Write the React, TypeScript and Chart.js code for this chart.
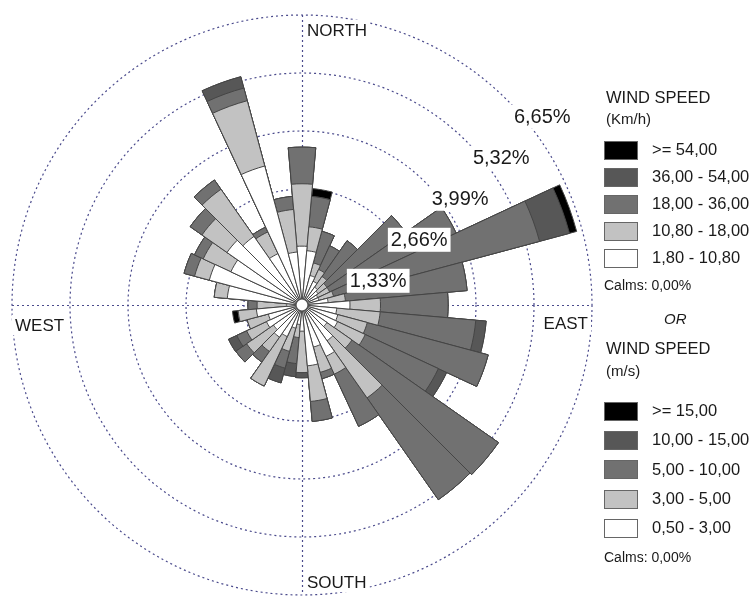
import React, { useEffect, useRef } from 'react';
import { Chart, registerables } from 'chart.js';
Chart.register(...registerables);

// Directions (degrees, clockwise from north), 10° sectors
const DIRECTIONS = ['0°','10°','20°','30°','40°','50°','60°','70°','80°','90°','100°','110°','120°','130°','140°','150°','160°','170°','180°','190°','200°','210°','220°','230°','240°','250°','260°','270°','280°','290°','300°','310°','320°','330°','340°','350°'];

// Frequency (%) per speed class and direction
const CLASS_1_8_10_8 = [1.35,1.25,0.70,0.60,0.50,0.45,0.40,0.40,0.60,1.10,0.80,0.85,0.90,0.70,1.00,1.30,1.00,1.40,0.60,0.45,0.55,0.80,0.90,0.80,0.90,0.80,1.05,0.35,1.72,2.20,1.80,2.10,1.92,1.30,3.30,1.22];
const CLASS_10_8_18 = [1.43,0.55,0.30,0.30,0.30,0.25,0.30,0.35,0.40,0.70,1.00,0.70,0.70,0.70,1.60,0.45,0.60,0.82,0.95,0.30,0.55,1.25,0.40,0.75,0.50,0.50,0.42,0.68,0.30,0.35,0.70,0.70,1.32,0.55,1.55,0.98];
const CLASS_18_36 = [0.84,0.70,0.75,0.60,1.00,2.20,3.20,4.89,2.80,1.55,2.20,2.87,1.85,4.10,2.85,1.32,0.15,0.46,0.00,0.60,0.40,0.00,0.30,0.30,0.25,0.00,0.00,0.21,0.00,0.25,0.22,0.33,0.26,0.12,0.30,0.30];
const CLASS_36_54 = [0,0,0,0,0,0,0,0.71,0,0,0.24,0,0.21,0,0,0,0,0,0.12,0.30,0.35,0,0,0,0.21,0,0,0,0,0,0,0,0,0,0.27,0];
const CLASS_54 = [0,0.18,0,0,0,0,0,0.17,0,0,0,0,0,0,0,0,0,0,0,0,0,0,0,0,0,0,0.13,0,0,0,0,0,0,0,0,0];

const RING_TICKS = [1.33, 2.66, 3.99, 5.32, 6.65];
const RING_LABELS = ['1,33%', '2,66%', '3,99%', '5,32%', '6,65%'];

const CLASS_COLORS = ['#ffffff', '#c2c2c2', '#717171', '#575757', '#000000'];
const KMH_LABELS = ['>= 54,00', '36,00 - 54,00', '18,00 - 36,00', '10,80 - 18,00', '1,80 - 10,80'];
const MS_LABELS = ['>= 15,00', '10,00 - 15,00', '5,00 - 10,00', '3,00 - 5,00', '0,50 - 3,00'];
const LEGEND_COLORS = ['#000000', '#575757', '#717171', '#c2c2c2', '#ffffff'];

const FONT = '"Liberation Sans", Arial, sans-serif';
const GRID_COLOR = '#4a4a8c';

function cumulative(series: number[][]): number[][] {
  const out: number[][] = [];
  let run = series[0].map(() => 0);
  for (const s of series) {
    run = run.map((v, i) => +(v + s[i]).toFixed(4));
    out.push(run.slice());
  }
  return out;
}

const overlayPlugin = {
  id: 'windroseOverlay',
  beforeDatasetsDraw(chart: any) {
    const s = chart.scales.r;
    const ctx = chart.ctx;
    const cx = s.xCenter, cy = s.yCenter, R = s.drawingArea;
    ctx.save();
    ctx.strokeStyle = GRID_COLOR;
    ctx.lineWidth = 1.2;
    ctx.setLineDash([2, 3]);
    ctx.beginPath();
    ctx.moveTo(cx - R, cy + 0.5); ctx.lineTo(cx + R, cy + 0.5);
    ctx.moveTo(cx + 0.5, cy - R); ctx.lineTo(cx + 0.5, cy + R);
    ctx.stroke();
    ctx.restore();
  },
  afterDatasetsDraw(chart: any) {
    const s = chart.scales.r;
    const ctx = chart.ctx;
    const cx = s.xCenter, cy = s.yCenter, R = s.drawingArea;
    ctx.save();
    // center calm circle
    ctx.beginPath();
    ctx.arc(cx, cy, 6, 0, Math.PI * 2);
    ctx.fillStyle = '#ffffff';
    ctx.fill();
    ctx.strokeStyle = '#555';
    ctx.lineWidth = 1.2;
    ctx.stroke();

    const boxText = (text: string, x: number, y: number, align: string, font: string) => {
      ctx.font = font;
      ctx.textAlign = align;
      ctx.textBaseline = 'middle';
      const w = ctx.measureText(text).width;
      let left = x;
      if (align === 'center') left = x - w / 2;
      if (align === 'right') left = x - w;
      const fs = parseFloat(font.match(/(\d+(\.\d+)?)px/)![1]);
      ctx.fillStyle = '#ffffff';
      ctx.fillRect(left - 3, y - fs * 0.6, w + 6, fs * 1.2);
      ctx.fillStyle = '#1a1a1a';
      ctx.fillText(text, x, y + 1);
    };

    // ring labels
    RING_TICKS.forEach((v, i) => {
      const r = s.getDistanceFromCenterForValue(v) + 13;
      const x = cx + r * Math.SQRT1_2 + 26;
      const y = cy - r * Math.SQRT1_2 + 26;
      boxText(RING_LABELS[i], x, y, 'center', `20px ${FONT}`);
    });

    // cardinal labels
    const cf = `17px ${FONT}`;
    boxText('NORTH', cx + 5, cy - R + 15, 'left', cf);
    boxText('SOUTH', cx + 5, cy + R - 13, 'left', cf);
    boxText('WEST', cx - R + 3, cy + 20, 'left', cf);
    boxText('EAST', cx + R - 4, cy + 18, 'right', cf);
    ctx.restore();
  },
};

function Legend() {
  const text = (t: string, x: number, cy: number, size: number, extra: any = {}) => (
    <div key={t + cy} style={{ position: 'absolute', left: x, top: cy - size * 0.6, fontSize: size, lineHeight: `${size * 1.2}px`, whiteSpace: 'nowrap', color: '#1a1a1a', ...extra }}>{t}</div>
  );
  const box = (color: string, cy: number) => (
    <div key={'b' + cy} style={{ position: 'absolute', left: 604, top: cy - 9, width: 32, height: 17, background: color, border: '1px solid #666' }} />
  );
  const items: any[] = [];
  items.push(text('WIND SPEED', 606, 98, 16.5));
  items.push(text('(Km/h)', 606, 119, 15));
  KMH_LABELS.forEach((l, i) => {
    const cy = 150 + i * 27;
    items.push(box(LEGEND_COLORS[i], cy));
    items.push(text(l, 652, cy, 16.5));
  });
  items.push(text('Calms: 0,00%', 604, 285, 14));
  items.push(text('OR', 664, 319, 15, { fontStyle: 'italic' }));
  items.push(text('WIND SPEED', 606, 349, 16.5));
  items.push(text('(m/s)', 606, 371, 15));
  MS_LABELS.forEach((l, i) => {
    const cy = 411 + i * 29.2;
    items.push(box(LEGEND_COLORS[i], cy));
    items.push(text(l, 652, cy, 16.5));
  });
  items.push(text('Calms: 0,00%', 604, 557, 14));
  return <>{items}</>;
}

export default function App() {
  const ref = useRef<HTMLCanvasElement>(null);
  useEffect(() => {
    const cum = cumulative([CLASS_1_8_10_8, CLASS_10_8_18, CLASS_18_36, CLASS_36_54, CLASS_54]);
    const names = ['1,80 - 10,80', '10,80 - 18,00', '18,00 - 36,00', '36,00 - 54,00', '>= 54,00'];
    const chart = new Chart(ref.current!, {
      type: 'polarArea',
      data: {
        labels: DIRECTIONS,
        datasets: cum.map((d, i) => ({
          label: names[i],
          data: d,
          backgroundColor: CLASS_COLORS[i],
          borderColor: '#454545',
          borderWidth: 1,
        })),
      },
      options: {
        animation: false,
        responsive: false,
        events: [],
        layout: { padding: { left: 12, right: 163, top: 15, bottom: 2 } },
        plugins: { legend: { display: false }, tooltip: { enabled: false } },
        scales: {
          r: {
            min: 0,
            max: 6.65,
            startAngle: -5,
            afterBuildTicks: (sc: any) => { sc.ticks = [0, ...RING_TICKS].map((v) => ({ value: v })); },
            ticks: { display: false },
            pointLabels: { display: false },
            angleLines: { display: false },
            grid: { circular: true, color: GRID_COLOR, lineWidth: 1.2 },
            border: { dash: [2, 3] },
          } as any,
        },
      },
      plugins: [overlayPlugin],
    });
    return () => chart.destroy();
  }, []);
  return (
    <div style={{ position: 'fixed', left: 0, top: 0, width: 755, height: 597, background: '#fff', fontFamily: FONT }}>
      <canvas ref={ref} width={755} height={597} style={{ position: 'absolute', left: 0, top: 0 }} />
      <Legend />
    </div>
  );
}
